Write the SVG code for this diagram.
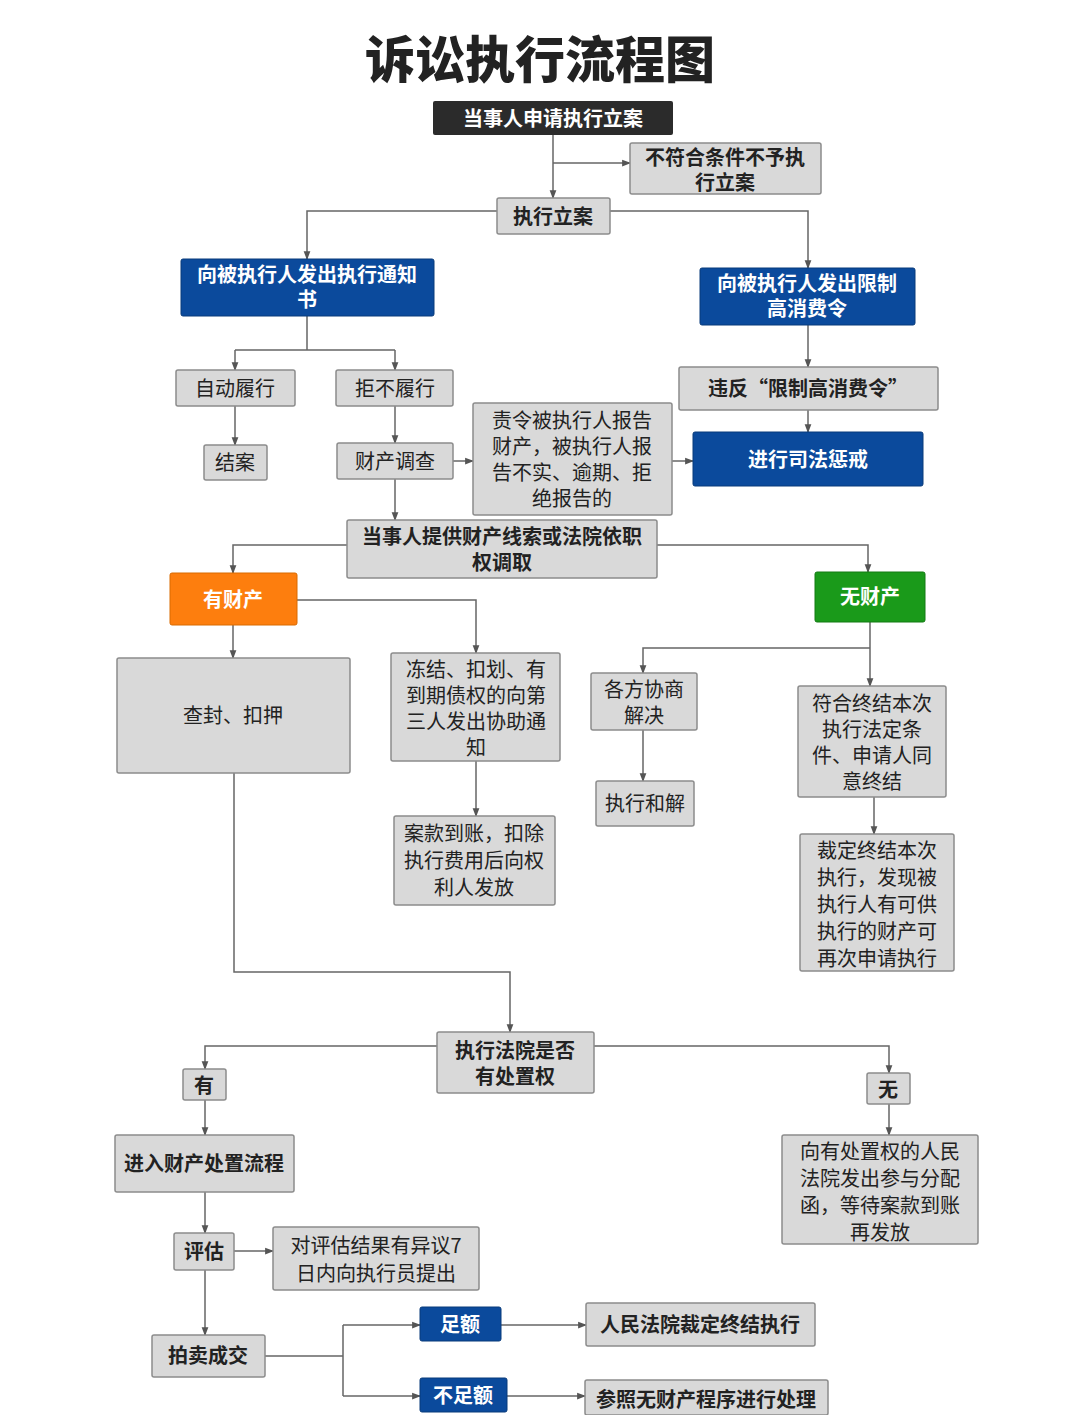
<svg xmlns="http://www.w3.org/2000/svg" width="1080" height="1415" viewBox="0 0 1080 1415">
<style>
text{font-family:"Noto Sans CJK SC","Noto Sans",sans-serif;font-size:20px;text-anchor:middle;fill:#222}
.g{fill:#d9d9d9;stroke:#8c8c8c;stroke-width:1.5}
.b{fill:#0b4a9c;stroke:#083a7a;stroke-width:1}
.d{fill:#2b2b2b}
.bo{font-weight:bold}
.w{fill:#fff;font-weight:bold}
.c path{fill:none;stroke:#666;stroke-width:1.5}
</style>
<defs><marker id="a" viewBox="0 0 8 8" refX="7" refY="4" markerWidth="6" markerHeight="6" orient="auto"><path d="M0,1L8,4L0,7z" fill="#555"/></marker></defs>
<rect width="1080" height="1415" fill="#fff"/>
<text x="540" y="78" style="font-size:50px;font-weight:900">诉讼执行流程图</text>
<g class="c">
<path d="M553,135V198" marker-end="url(#a)"/><path d="M553,163H630" marker-end="url(#a)"/>
<path d="M497,211H307V259" marker-end="url(#a)"/><path d="M610,211H808V268" marker-end="url(#a)"/>
<path d="M307,316V350M235,350H395"/><path d="M235,350V370" marker-end="url(#a)"/><path d="M395,350V370" marker-end="url(#a)"/>
<path d="M235,406V445" marker-end="url(#a)"/><path d="M395,406V443" marker-end="url(#a)"/>
<path d="M808,325V367" marker-end="url(#a)"/><path d="M808,410V432" marker-end="url(#a)"/>
<path d="M453,461H473" marker-end="url(#a)"/><path d="M672,461H693" marker-end="url(#a)"/>
<path d="M395,479V520" marker-end="url(#a)"/>
<path d="M347,545H233V573" marker-end="url(#a)"/><path d="M657,545H868V572" marker-end="url(#a)"/>
<path d="M233,625V658" marker-end="url(#a)"/><path d="M297,600H476V653" marker-end="url(#a)"/>
<path d="M476,761V816" marker-end="url(#a)"/>
<path d="M870,622V686" marker-end="url(#a)"/><path d="M870,648H643V673" marker-end="url(#a)"/>
<path d="M643,730V781" marker-end="url(#a)"/><path d="M874,797V834" marker-end="url(#a)"/>
<path d="M234,773V972H510V1032" marker-end="url(#a)"/>
<path d="M437,1046H205V1069" marker-end="url(#a)"/><path d="M594,1046H889V1073" marker-end="url(#a)"/>
<path d="M205,1100V1135" marker-end="url(#a)"/><path d="M889,1104V1135" marker-end="url(#a)"/>
<path d="M205,1192V1233" marker-end="url(#a)"/><path d="M234,1251H273" marker-end="url(#a)"/>
<path d="M205,1270V1335" marker-end="url(#a)"/>
<path d="M237,1356H343M343,1325V1396"/><path d="M343,1325H420" marker-end="url(#a)"/><path d="M343,1396H420" marker-end="url(#a)"/>
<path d="M501,1325H586" marker-end="url(#a)"/><path d="M507,1396H585" marker-end="url(#a)"/>
</g>
<g id="n1"><rect class="d" x="433" y="101" width="240" height="34" rx="2"/><text class="w" x="553" y="126">当事人申请执行立案</text></g>
<g id="n2"><rect class="g" x="630" y="143" width="191" height="51" rx="2"/><text class="bo" x="725" y="165">不符合条件不予执</text><text class="bo" x="725" y="190">行立案</text></g>
<g id="n3"><rect class="g" x="497" y="198" width="113" height="36" rx="2"/><text class="bo" x="553" y="224">执行立案</text></g>
<g id="n4"><rect class="b" x="181" y="259" width="253" height="57" rx="2"/><text class="w" x="307" y="282">向被执行人发出执行通知</text><text class="w" x="307" y="307">书</text></g>
<g id="n5"><rect class="b" x="700" y="268" width="215" height="57" rx="2"/><text class="w" x="807" y="291">向被执行人发出限制</text><text class="w" x="807" y="316">高消费令</text></g>
<g id="n6"><rect class="g" x="176" y="370" width="119" height="36" rx="2"/><text x="235" y="396">自动履行</text></g>
<g id="n7"><rect class="g" x="336" y="370" width="117" height="36" rx="2"/><text x="395" y="396">拒不履行</text></g>
<g id="n8"><rect class="g" x="204" y="445" width="63" height="35" rx="2"/><text x="235" y="470">结案</text></g>
<g id="n9"><rect class="g" x="337" y="443" width="116" height="36" rx="2"/><text x="395" y="469">财产调查</text></g>
<g id="n10"><rect class="g" x="473" y="403" width="199" height="112" rx="2"/><text x="572" y="428">责令被执行人报告</text><text x="572" y="454">财产，被执行人报</text><text x="572" y="480">告不实、逾期、拒</text><text x="572" y="506">绝报告的</text></g>
<g id="n11"><rect class="g" x="679" y="367" width="259" height="43" rx="2"/><text class="bo" x="808" y="396">违反“限制高消费令”</text></g>
<g id="n12"><rect class="b" x="693" y="432" width="230" height="54" rx="2"/><text class="w" x="808" y="467">进行司法惩戒</text></g>
<g id="n13"><rect class="g" x="347" y="520" width="310" height="58" rx="2"/><text class="bo" x="502" y="544">当事人提供财产线索或法院依职</text><text class="bo" x="502" y="570">权调取</text></g>
<g id="n14"><rect x="170" y="573" width="127" height="52" rx="2" fill="#fd7e0e" stroke="#d96a00"/><text class="w" x="233" y="607">有财产</text></g>
<g id="n15"><rect x="815" y="572" width="110" height="50" rx="2" fill="#1a9a1a" stroke="#137a13"/><text class="w" x="870" y="604">无财产</text></g>
<g id="n16"><rect class="g" x="117" y="658" width="233" height="115" rx="2"/><text x="233" y="723">查封、扣押</text></g>
<g id="n17"><rect class="g" x="391" y="653" width="169" height="108" rx="2"/><text x="476" y="677">冻结、扣划、有</text><text x="476" y="703">到期债权的向第</text><text x="476" y="729">三人发出协助通</text><text x="476" y="755">知</text></g>
<g id="n18"><rect class="g" x="394" y="816" width="161" height="89" rx="2"/><text x="474" y="841">案款到账，扣除</text><text x="474" y="868">执行费用后向权</text><text x="474" y="895">利人发放</text></g>
<g id="n19"><rect class="g" x="591" y="673" width="106" height="57" rx="2"/><text x="644" y="697">各方协商</text><text x="644" y="723">解决</text></g>
<g id="n20"><rect class="g" x="596" y="781" width="98" height="45" rx="2"/><text x="645" y="811">执行和解</text></g>
<g id="n21"><rect class="g" x="798" y="686" width="148" height="111" rx="2"/><text x="872" y="711">符合终结本次</text><text x="872" y="737">执行法定条</text><text x="872" y="763">件、申请人同</text><text x="872" y="789">意终结</text></g>
<g id="n22"><rect class="g" x="800" y="834" width="154" height="137" rx="2"/><text x="877" y="858">裁定终结本次</text><text x="877" y="885">执行，发现被</text><text x="877" y="912">执行人有可供</text><text x="877" y="939">执行的财产可</text><text x="877" y="966">再次申请执行</text></g>
<g id="n23"><rect class="g" x="437" y="1032" width="157" height="61" rx="2"/><text class="bo" x="515" y="1058">执行法院是否</text><text class="bo" x="515" y="1084">有处置权</text></g>
<g id="n24"><rect class="g" x="183" y="1069" width="43" height="31" rx="2"/><text class="bo" x="204" y="1093">有</text></g>
<g id="n25"><rect class="g" x="867" y="1073" width="43" height="31" rx="2"/><text class="bo" x="888" y="1097">无</text></g>
<g id="n26"><rect class="g" x="115" y="1135" width="179" height="57" rx="2"/><text class="bo" x="204" y="1171">进入财产处置流程</text></g>
<g id="n27"><rect class="g" x="174" y="1233" width="60" height="37" rx="2"/><text class="bo" x="204" y="1259">评估</text></g>
<g id="n28"><rect class="g" x="273" y="1227" width="206" height="63" rx="2"/><text x="376" y="1253">对评估结果有异议7</text><text x="376" y="1281">日内向执行员提出</text></g>
<g id="n29"><rect class="g" x="152" y="1335" width="113" height="42" rx="2"/><text class="bo" x="208" y="1363">拍卖成交</text></g>
<g id="n30"><rect class="b" x="420" y="1307" width="81" height="34" rx="2"/><text class="w" x="460" y="1332">足额</text></g>
<g id="n31"><rect class="b" x="420" y="1378" width="87" height="34" rx="2"/><text class="w" x="463" y="1403">不足额</text></g>
<g id="n32"><rect class="g" x="586" y="1303" width="229" height="43" rx="2"/><text class="bo" x="700" y="1332">人民法院裁定终结执行</text></g>
<g id="n33"><rect class="g" x="585" y="1380" width="243" height="35" rx="2"/><text class="bo" x="706" y="1407">参照无财产程序进行处理</text></g>
<g id="n34"><rect class="g" x="782" y="1135" width="196" height="109" rx="2"/><text x="880" y="1159">向有处置权的人民</text><text x="880" y="1186">法院发出参与分配</text><text x="880" y="1213">函，等待案款到账</text><text x="880" y="1240">再发放</text></g>
</svg>
